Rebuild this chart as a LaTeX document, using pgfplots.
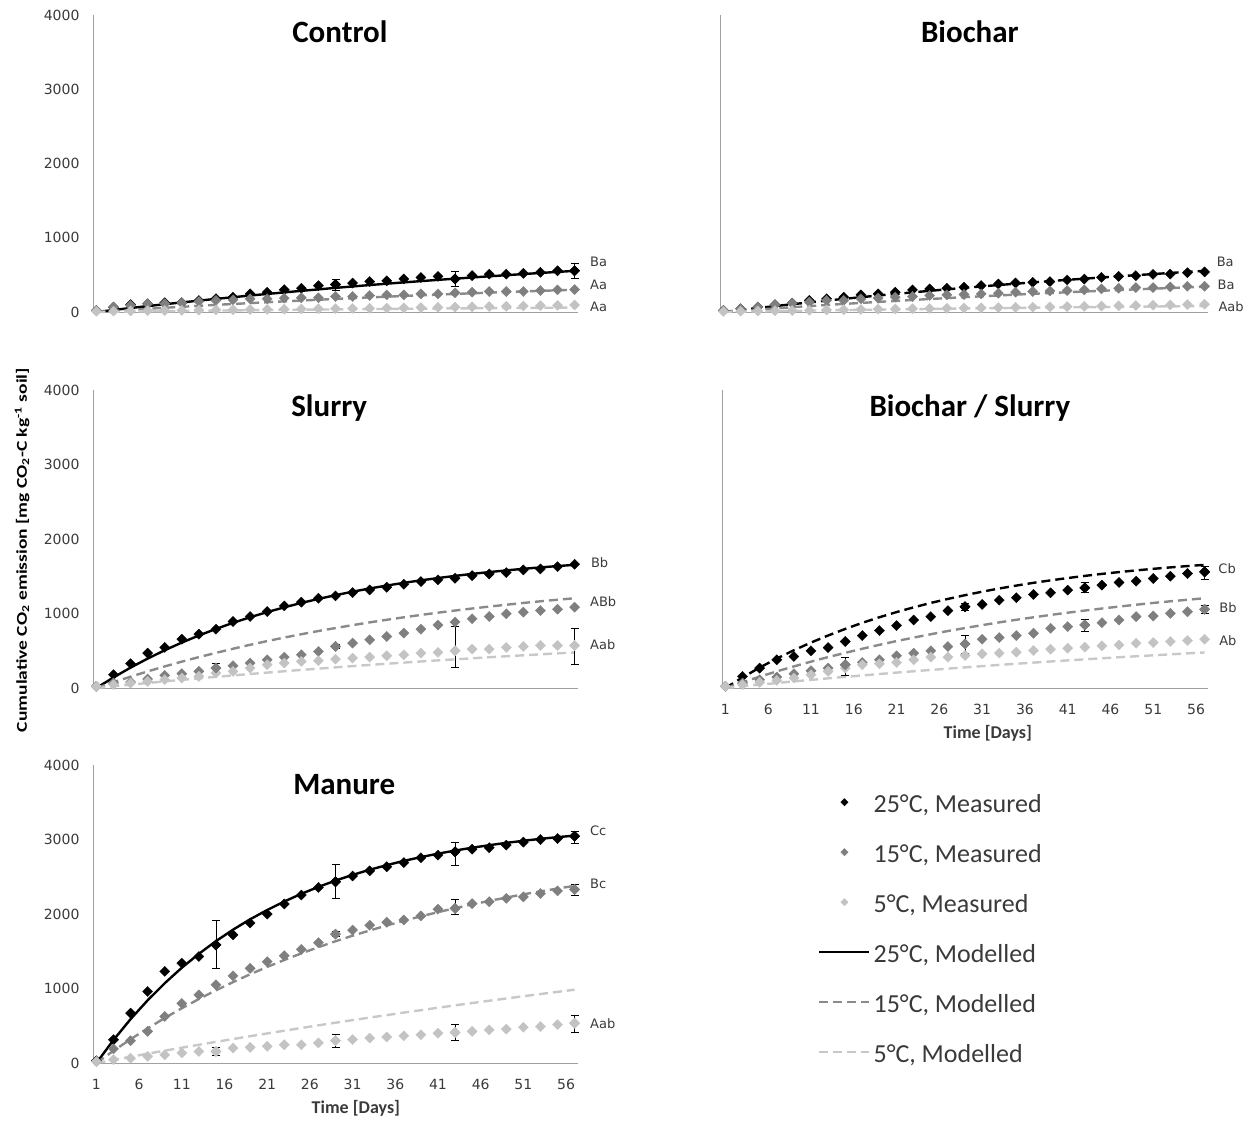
\documentclass[border=0pt]{standalone}
\usepackage{fontspec}
\setmainfont{Carlito}
\newfontfamily\tickfont{DejaVu Sans}
\usepackage{pgfplots}
\usepackage{pgfplotstable}
\pgfplotsset{compat=1.18}
\definecolor{dgray}{HTML}{7F7F7F}
\definecolor{lgray}{HTML}{C3C3C3}
\definecolor{dline}{HTML}{8A8A8A}
\definecolor{lline}{HTML}{C8C8C8}
\definecolor{axcol}{HTML}{A0A0A0}
\definecolor{txtcol}{HTML}{3A3A3A}

\pgfplotstableread{
d c25 c15 c5 m25 m15 m5
1 20 22 10 0 0 0
3 65 67 12 27 15 3
5 100 89 15 54 29 6
7 110 111 18 79 43 9
9 125 111 20 105 57 11
11 125 124 22 129 70 14
13 155 142 25 153 83 17
15 180 156 28 177 96 19
17 200 164 30 199 108 22
19 245 178 33 222 120 24
21 265 178 35 243 132 26
23 300 187 38 264 143 29
25 320 191 40 285 154 31
27 355 191 43 305 165 33
29 370 209 45 325 176 35
31 390 209 48 344 186 37
33 410 222 50 363 197 39
35 420 231 53 381 206 41
37 445 231 56 399 216 43
39 465 244 60 416 225 45
41 480 244 63 433 234 47
43 445 258 66 449 243 49
45 490 267 70 465 252 50
47 510 276 73 481 260 52
49 510 276 77 496 269 54
51 520 276 81 511 277 55
53 535 289 85 526 285 57
55 555 298 90 540 292 58
57 555 302 95 554 300 60
}\ctrl

\pgfplotstableread{
d c25 c15 c5 m25 m15 m5
1 22 22 8 0 0 0
3 44 44 10 27 17 4
5 67 67 14 54 33 8
7 98 98 18 79 49 11
9 120 120 20 105 64 15
11 156 133 24 129 79 19
13 178 156 28 153 94 22
15 200 156 30 177 109 26
17 231 178 34 199 122 29
19 244 187 38 222 136 32
21 267 200 40 243 149 35
23 298 209 44 264 162 38
25 311 222 47 285 175 41
27 320 231 50 305 187 44
29 333 236 54 325 200 47
31 356 244 57 344 211 50
33 378 253 60 363 223 52
35 391 267 63 381 234 55
37 400 276 66 399 245 58
39 409 284 70 416 255 60
41 431 289 73 433 266 63
43 444 298 76 449 276 65
45 467 311 80 465 286 67
47 480 320 84 481 295 69
49 489 329 88 496 305 72
51 507 329 92 511 314 74
53 511 338 96 526 323 76
55 530 347 100 540 332 78
57 540 347 105 554 340 80
}\bioc

\pgfplotstableread{
d c25 c15 c5 m25 m15 m5
1 22 22 22 0 0 0
3 179 67 45 142 78 23
5 326 80 67 274 152 45
7 469 121 89 395 223 67
9 545 170 112 507 290 89
11 656 192 134 610 354 109
13 723 223 156 705 415 130
15 790 268 201 793 472 150
17 893 299 223 875 527 169
19 960 335 268 950 580 188
21 1027 379 313 1019 630 207
23 1103 415 335 1083 677 225
25 1152 446 357 1142 722 243
27 1205 491 366 1196 765 260
29 1237 558 388 1246 805 277
31 1281 603 402 1293 844 294
33 1317 647 415 1336 881 310
35 1353 692 433 1375 916 326
37 1393 737 446 1412 949 341
39 1429 790 469 1445 981 356
41 1451 845 478 1476 1011 371
43 1473 885 500 1505 1040 385
45 1509 930 522 1532 1067 399
47 1531 960 522 1556 1093 413
49 1549 996 545 1579 1118 426
51 1585 1018 558 1600 1142 439
53 1598 1040 571 1619 1164 452
55 1629 1058 571 1637 1185 465
57 1661 1085 571 1653 1205 477
}\slur

\pgfplotstableread{
d c25 c15 c5 m25 m15 m5
1 22 22 22 0 0 0
3 156 67 45 142 78 23
5 267 111 76 274 152 45
7 379 147 102 395 223 67
9 423 192 134 507 290 89
11 499 232 178 610 354 109
13 543 267 223 705 415 130
15 624 312 267 793 472 150
17 704 343 312 875 527 169
19 771 379 325 950 580 188
21 838 432 343 1019 630 207
23 913 468 379 1083 677 225
25 958 499 414 1142 722 243
27 1038 557 414 1196 765 260
29 1091 592 437 1246 805 277
31 1122 655 459 1293 844 294
33 1180 677 468 1336 881 310
35 1212 704 481 1375 916 326
37 1256 735 503 1412 949 341
39 1278 802 521 1445 981 356
41 1314 824 535 1476 1011 371
43 1345 846 548 1505 1040 385
45 1381 877 566 1532 1067 399
47 1417 913 579 1556 1093 413
49 1434 958 601 1579 1118 426
51 1470 967 610 1600 1142 439
53 1501 1002 624 1619 1164 452
55 1537 1024 637 1637 1185 465
57 1559 1056 655 1653 1205 477
}\bslur

\pgfplotstableread{
d c25 c15 c5 m25 m15 m5
1 30 20 20 0 0 0
3 312 190 45 309 164 42
5 670 300 65 589 319 84
7 960 425 90 842 465 125
9 1230 625 110 1071 604 166
11 1340 800 135 1279 735 206
13 1430 915 155 1466 859 245
15 1585 1050 155 1636 976 284
17 1720 1170 200 1790 1086 322
19 1880 1270 210 1929 1191 360
21 2000 1360 225 2054 1290 397
23 2135 1440 245 2168 1383 434
25 2255 1525 245 2271 1472 470
27 2357 1615 270 2364 1555 506
29 2433 1730 300 2449 1634 541
31 2510 1785 315 2525 1709 576
33 2580 1850 335 2594 1779 610
35 2635 1890 350 2656 1846 643
37 2690 1920 365 2713 1909 677
39 2755 1975 380 2764 1969 709
41 2790 2065 400 2810 2025 742
43 2835 2075 410 2852 2078 774
45 2870 2140 425 2890 2129 805
47 2890 2165 445 2924 2176 836
49 2925 2210 455 2955 2221 866
51 2965 2230 480 2983 2264 897
53 3000 2275 490 3009 2304 926
55 3013 2310 515 3032 2342 955
57 3045 2330 535 3052 2378 984
}\manu

% error bar subsets
\pgfplotstableread{
d y ep em
29 370 75 75
43 445 95 95
57 555 95 100
}\ctrlEa
\pgfplotstableread{
d y ep em
15 268 60 70
29 558 30 30
}\slurEb
\pgfplotstableread{
d y ep em
43 500 326 223
57 571 233 258
}\slurEc
\pgfplotstableread{
d y ep em
29 1091 45 45
43 1345 66 66
57 1559 67 102
}\bslurEa
\pgfplotstableread{
d y ep em
15 312 102 147
29 592 107 124
43 846 76 89
57 1056 55 55
}\bslurEb
\pgfplotstableread{
d y ep em
15 1585 326 313
29 2433 232 223
43 2835 125 179
57 3045 66 99
}\manuEa
\pgfplotstableread{
d y ep em
29 1730 35 35
43 2075 121 75
57 2330 67 76
}\manuEb
\pgfplotstableread{
d y ep em
15 155 55 55
29 300 90 90
43 410 110 110
57 535 100 125
}\manuEc

\pgfplotsset{
  panel/.style={anchor=south west, scale only axis, width=485pt, height=297pt,
    xmin=0.6, xmax=57.4, ymin=0, ymax=4000, clip=false,
    axis x line*=bottom, axis y line*=left,
    axis line style={axcol, line width=0.8pt, -},
    major tick length=0pt,
    ytick={0,1000,2000,3000,4000}, xtick={1,6,...,56},
    tick label style={font=\tickfont\fontsize{14}{16}\selectfont, text=txtcol},
    /pgf/number format/assume math mode=true,
    /pgf/number format/1000 sep={},
    scaled y ticks=false,
    yticklabel shift=10pt, xticklabel shift=13pt},
  m25/.style={only marks, mark=square*, mark size=3.6pt, mark options={rotate=45, fill=black, draw=black, line width=0.3pt, solid}},
  m15/.style={only marks, mark=square*, mark size=3.6pt, mark options={rotate=45, fill=dgray, draw=dgray, line width=0.3pt, solid}},
  m5/.style={only marks, mark=square*, mark size=3.6pt, mark options={rotate=45, fill=lgray, draw=lgray, line width=0.3pt, solid}},
  l25/.style={no markers, black, line width=2.4pt, solid},
  l25d/.style={no markers, black, line width=2.4pt, dash pattern=on 9pt off 5pt},
  l15/.style={no markers, dline, line width=2.4pt, dash pattern=on 9pt off 5pt},
  l5/.style={no markers, lline, line width=2.4pt, dash pattern=on 9pt off 5pt},
  eb/.style={error bars/.cd, y dir=both, y explicit,
    error bar style={black, line width=0.9pt, solid},
    error mark options={rotate=90, black, mark size=4pt, line width=0.9pt, solid}},
}
\tikzset{
  ttl/.style={font=\bfseries\fontsize{31}{37}\selectfont, text=black},
  lab/.style={anchor=west, inner sep=0pt, font=\tickfont\fontsize{13}{15}\selectfont, text=txtcol},
  tlab/.style={font=\bfseries\fontsize{18}{21}\selectfont, text=txtcol},
}

\begin{document}
\begin{tikzpicture}
\useasboundingbox (0,0) rectangle (1257pt,-1120pt);

% Control
\begin{axis}[panel, at={(93pt,-312pt)}, xtick=\empty]
\addplot[m25] table[x=d,y=c25]{\ctrl};
\addplot[m15] table[x=d,y=c15]{\ctrl};
\addplot[m5] table[x=d,y=c5]{\ctrl};
\addplot[l25] table[x=d,y=m25]{\ctrl};
\addplot[l15] table[x=d,y=m15]{\ctrl};
\addplot[l5] table[x=d,y=m5]{\ctrl};
\addplot[m25, eb] table[x=d,y=y,y error plus=ep,y error minus=em]{\ctrlEa};
\node[ttl] at (axis description cs:0.509,0.943) {Control};
\node[lab] at (axis cs:58.8,673) {Ba};
\node[lab] at (axis cs:58.8,364) {Aa};
\node[lab] at (axis cs:58.8,67) {Aa};
\end{axis}

% Biochar
\begin{axis}[panel, at={(720pt,-312pt)}, width=488pt, xtick=\empty, ytick=\empty]
\addplot[m25] table[x=d,y=c25]{\bioc};
\addplot[m15] table[x=d,y=c15]{\bioc};
\addplot[m5] table[x=d,y=c5]{\bioc};
\addplot[l25d] table[x=d,y=m25]{\bioc};
\addplot[l15] table[x=d,y=m15]{\bioc};
\addplot[l5] table[x=d,y=m5]{\bioc};
\node[ttl] at (axis description cs:0.512,0.943) {Biochar};
\node[lab] at (axis cs:58.4,673) {Ba};
\node[lab] at (axis cs:58.5,364) {Ba};
\node[lab] at (axis cs:58.6,67) {Aab};
\end{axis}

% Slurry
\begin{axis}[panel, at={(93pt,-688pt)}, height=298pt, xtick=\empty]
\addplot[m25] table[x=d,y=c25]{\slur};
\addplot[m15] table[x=d,y=c15]{\slur};
\addplot[m5] table[x=d,y=c5]{\slur};
\addplot[l25] table[x=d,y=m25]{\slur};
\addplot[l15] table[x=d,y=m15]{\slur};
\addplot[l5] table[x=d,y=m5]{\slur};
\addplot[m15, eb] table[x=d,y=y,y error plus=ep,y error minus=em]{\slurEb};
\addplot[m5, eb] table[x=d,y=y,y error plus=ep,y error minus=em]{\slurEc};
\node[ttl] at (axis description cs:0.487,0.94) {Slurry};
\node[lab] at (axis cs:58.9,1678) {Bb};
\node[lab] at (axis cs:58.8,1154) {ABb};
\node[lab] at (axis cs:58.8,577) {Aab};
\node[rotate=90, font=\bfseries\fontsize{15}{18}\selectfont, text=black] at (axis description cs:-0.146,0.463)
  {\scalebox{1.3}[1]{Cumulative CO\textsubscript{2} emission [mg CO\textsubscript{2}-C kg\textsuperscript{-1} soil]}};
\end{axis}

% Biochar / Slurry
\begin{axis}[panel, at={(722pt,-688pt)}, width=486pt, height=298pt, ytick=\empty]
\addplot[m25] table[x=d,y=c25]{\bslur};
\addplot[m15] table[x=d,y=c15]{\bslur};
\addplot[m5] table[x=d,y=c5]{\bslur};
\addplot[l25d] table[x=d,y=m25]{\bslur};
\addplot[l15] table[x=d,y=m15]{\bslur};
\addplot[l5] table[x=d,y=m5]{\bslur};
\addplot[m25, eb] table[x=d,y=y,y error plus=ep,y error minus=em]{\bslurEa};
\addplot[m15, eb] table[x=d,y=y,y error plus=ep,y error minus=em]{\bslurEb};
\node[ttl] at (axis description cs:0.51,0.94) {Biochar / Slurry};
\node[lab] at (axis cs:58.6,1597) {Cb};
\node[lab] at (axis cs:58.7,1074) {Bb};
\node[lab] at (axis cs:58.7,631) {Ab};
\node[tlab] at (axis description cs:0.547,-0.151) {Time [Days]};
\end{axis}

% Manure
\begin{axis}[panel, at={(93pt,-1063pt)}, height=298pt]
\addplot[m25] table[x=d,y=c25]{\manu};
\addplot[m15] table[x=d,y=c15]{\manu};
\addplot[m5] table[x=d,y=c5]{\manu};
\addplot[l25] table[x=d,y=m25]{\manu};
\addplot[l15] table[x=d,y=m15]{\manu};
\addplot[l5] table[x=d,y=m5]{\manu};
\addplot[m25, eb] table[x=d,y=y,y error plus=ep,y error minus=em]{\manuEa};
\addplot[m15, eb] table[x=d,y=y,y error plus=ep,y error minus=em]{\manuEb};
\addplot[m5, eb] table[x=d,y=y,y error plus=ep,y error minus=em]{\manuEc};
\node[ttl] at (axis description cs:0.518,0.933) {Manure};
\node[lab] at (axis cs:58.8,3114) {Cc};
\node[lab] at (axis cs:58.8,2403) {Bc};
\node[lab] at (axis cs:58.8,523) {Aab};
\node[tlab] at (axis description cs:0.542,-0.151) {Time [Days]};
\end{axis}

% Legend
\begin{axis}[at={(818pt,-785pt)}, anchor=north west, hide axis, scale only axis,
  width=50pt, height=50pt, xmin=0, xmax=1, ymin=0, ymax=1,
  legend style={at={(0,1)}, anchor=north west, draw=none, fill=none, inner sep=0pt,
    font=\fontsize{26}{31}\selectfont, row sep=0pt, column sep=3pt,
    nodes={inner sep=0pt, text height=0.72em, text depth=0.22em, minimum height=50pt, text=txtcol}},
  legend cell align=left,
  legend image code/.code={\draw[mark repeat=2,mark phase=2,#1] plot coordinates {(0pt,8pt) (25pt,8pt) (50pt,8pt)};}]
\addlegendimage{m25, mark size=2.6pt}
\addlegendentry{25°C, Measured}
\addlegendimage{m15, mark size=2.6pt}
\addlegendentry{15°C, Measured}
\addlegendimage{m5, mark size=2.6pt}
\addlegendentry{5°C, Measured}
\addlegendimage{l25}
\addlegendentry{25°C, Modelled}
\addlegendimage{l15}
\addlegendentry{15°C, Modelled}
\addlegendimage{l5}
\addlegendentry{5°C, Modelled}
\end{axis}
\end{tikzpicture}
\end{document}
